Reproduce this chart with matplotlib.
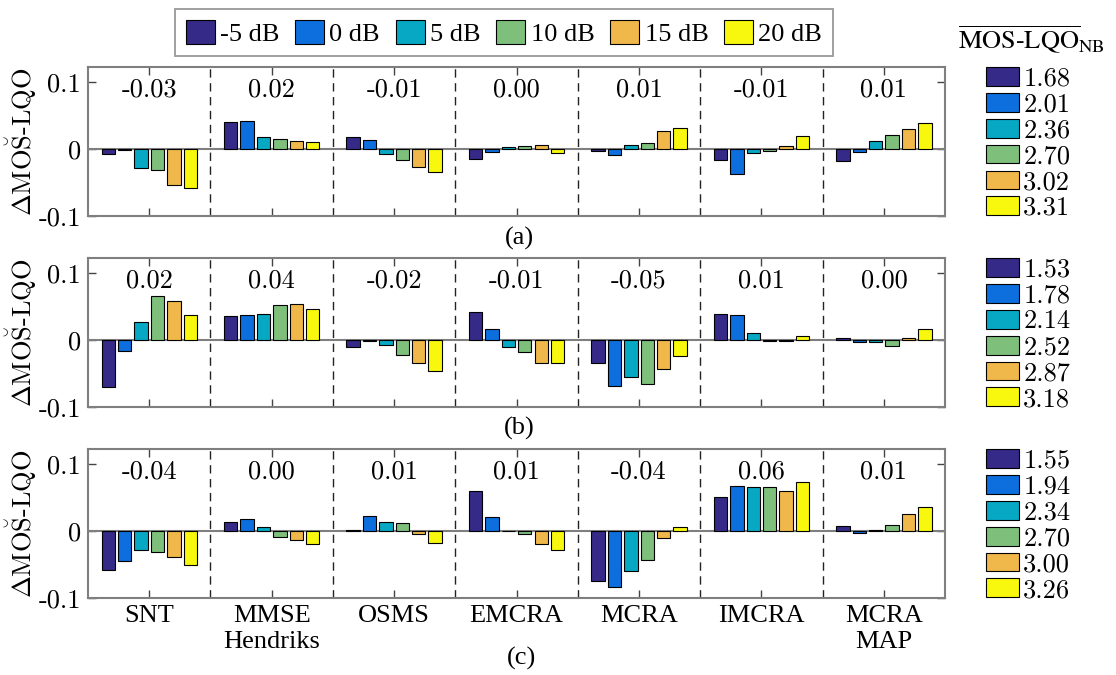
import numpy as np
import matplotlib
matplotlib.use("Agg")
import matplotlib.pyplot as plt
from matplotlib.patches import Patch

methods = ["SNT", "MMSE\nHendriks", "OSMS", "EMCRA", "MCRA", "IMCRA", "MCRA\nMAP"]
snr_labels = ["-5 dB", "0 dB", "5 dB", "10 dB", "15 dB", "20 dB"]
colors = ["#352a87", "#0d6fdd", "#07a8c3", "#7dbf7b", "#f0b84a", "#f8f80e"]

# rows: methods, columns: SNR (-5 ... 20 dB)
delta_a = np.array([
    [-0.0075, -0.001, -0.028, -0.032, -0.054, -0.058],
    [0.040, 0.042, 0.017, 0.0145, 0.012, 0.010],
    [0.018, 0.014, -0.007, -0.016, -0.027, -0.034],
    [-0.0145, -0.004, 0.0035, 0.005, 0.0065, -0.0055],
    [-0.0035, -0.0095, 0.0065, 0.0095, 0.027, 0.031],
    [-0.016, -0.038, -0.0055, -0.0025, 0.0045, 0.019],
    [-0.0175, -0.004, 0.0125, 0.021, 0.030, 0.038],
])
delta_b = np.array([
    [-0.0695, -0.017, 0.027, 0.0655, 0.0575, 0.0365],
    [0.035, 0.0365, 0.039, 0.052, 0.054, 0.0465],
    [-0.011, -0.0015, -0.008, -0.022, -0.034, -0.046],
    [0.0415, 0.016, -0.010, -0.018, -0.035, -0.034],
    [-0.035, -0.068, -0.055, -0.066, -0.044, -0.024],
    [0.039, 0.037, 0.011, -0.002, -0.002, 0.006],
    [0.0035, -0.0035, -0.0035, -0.0095, 0.0025, 0.016],
])
delta_c = np.array([
    [-0.0585, -0.0445, -0.028, -0.032, -0.039, -0.0505],
    [0.014, 0.018, 0.0065, -0.009, -0.013, -0.020],
    [0.001, 0.022, 0.013, 0.012, -0.004, -0.018],
    [0.059, 0.0215, -0.0005, -0.005, -0.020, -0.0285],
    [-0.075, -0.084, -0.059, -0.0435, -0.0105, 0.0065],
    [0.050, 0.067, 0.065, 0.065, 0.060, 0.073],
    [0.007, -0.0025, 0.001, 0.0095, 0.025, 0.0355],
])
means_a = ["-0.03", "0.02", "-0.01", "0.00", "0.01", "-0.01", "0.01"]
means_b = ["0.02", "0.04", "-0.02", "-0.01", "-0.05", "0.01", "0.00"]
means_c = ["-0.04", "0.00", "0.01", "0.01", "-0.04", "0.06", "0.01"]
mos_a = ["1.68", "2.01", "2.36", "2.70", "3.02", "3.31"]
mos_b = ["1.53", "1.78", "2.14", "2.52", "2.87", "3.18"]
mos_c = ["1.55", "1.94", "2.34", "2.70", "3.00", "3.26"]
panel_names = ["(a)", "(b)", "(c)"]

fig = plt.figure(figsize=(11.16, 6.75), dpi=100)

rects = [[0.0789, 0.680, 0.768, 0.2207],
         [0.0789, 0.397, 0.768, 0.2207],
         [0.0789, 0.114, 0.768, 0.2207]]
label_y = [1 - 238 / 675, 1 - 428 / 675, 1 - 658 / 675]
label_x = [519 / 1116, 519 / 1116, 522 / 1116]

x = np.arange(1, len(methods) + 1)
step = 0.134
bar_w = 0.109
spine_col = "#7f7f7f"

handles = [Patch(facecolor=c, edgecolor="black", linewidth=0.8) for c in colors]

for k, (data, means, mos) in enumerate(zip([delta_a, delta_b, delta_c],
                                            [means_a, means_b, means_c],
                                            [mos_a, mos_b, mos_c])):
    ax = fig.add_axes(rects[k])
    for j in range(len(snr_labels)):
        ax.bar(x + (j - 2.5) * step, data[:, j], width=bar_w, color=colors[j],
               edgecolor="black", linewidth=0.8, zorder=3)
    ax.axhline(0, color=spine_col, lw=1.5, zorder=2)
    for b in x[:-1] + 0.5:
        ax.axvline(b, color="#222222", lw=1.0, ls=(0, (6, 4)), zorder=1)
    for i, m in enumerate(means):
        ax.text(x[i], 0.089, m, ha="center", va="center", family="cmr10", fontsize=19)

    ax.set_xlim(0.5, 7.5)
    ax.set_ylim(-0.1, 0.122)
    ax.set_yticks([-0.1, 0, 0.1])
    ax.set_yticklabels(["-0.1", "0", "0.1"], family="cmr10", fontsize=19)
    ax.set_xticks(x)
    if k == 2:
        ax.set_xticklabels(methods, family="Liberation Serif", fontsize=19, linespacing=1.25)
    else:
        ax.set_xticklabels([])
    ax.tick_params(direction="in", length=6, width=1, top=True, right=True,
                   color="#444444", pad=5)
    for s in ax.spines.values():
        s.set_color(spine_col)
        s.set_linewidth(1.5)
    ax.set_ylabel(r"$\Delta\mathrm{MO\breve{S}}$-LQO", family="cmr10", fontsize=19,
                  math_fontfamily="cm", labelpad=0)

    leg = ax.legend(handles, mos, loc="upper left", bbox_to_anchor=(1.048, 1.0),
                    frameon=False, prop={"family": "cmr10", "size": 19},
                    handlelength=1.25, handleheight=0.72, handletextpad=0.15,
                    labelspacing=0.08, borderpad=0, borderaxespad=0)

    fig.text(label_x[k], label_y[k], panel_names[k], ha="center", va="center",
             family="Liberation Serif", fontsize=19)

top = fig.legend(handles, snr_labels, ncol=6, loc="upper left",
                 bbox_to_anchor=(175 / 1116, 1 - 9 / 675), frameon=True, fancybox=False,
                 prop={"family": "Liberation Serif", "size": 19},
                 handlelength=1.1, handleheight=1.05, handletextpad=0.2,
                 columnspacing=0.6, borderpad=0.4, borderaxespad=0)
top.get_frame().set_edgecolor(spine_col)
top.get_frame().set_linewidth(1.3)

fig.text(958 / 1116, 1 - 40 / 675, r"$\overline{\mathrm{MOS\text{-}LQO}}_{\mathrm{NB}}$",
         ha="left", va="center", fontsize=19, math_fontfamily="stix")

fig.savefig("out.png", dpi=100)
